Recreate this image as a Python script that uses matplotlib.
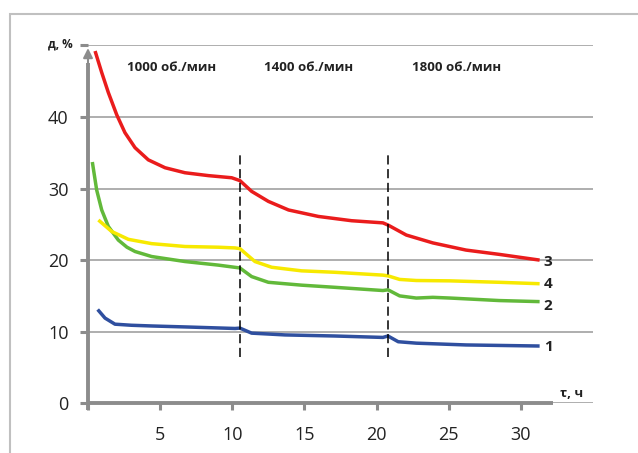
import matplotlib
matplotlib.use("Agg")
import matplotlib.pyplot as plt
from matplotlib.patches import Rectangle

plt.rcParams['font.family'] = ['Open Sans', 'DejaVu Sans']

# Curve 1 (blue)
x1 = [0.67, 1.18, 1.87, 3.0, 4.41, 7.0, 10.19, 10.53, 11.34, 13.65, 17.1, 20.44, 20.79, 21.5, 22.75, 26.2, 31.3]
y1 = [13.1, 11.9, 11.05, 10.9, 10.8, 10.65, 10.45, 10.5, 9.8, 9.55, 9.4, 9.2, 9.4, 8.6, 8.4, 8.15, 8.0]
# Curve 2 (green)
x2 = [0.3, 0.6, 0.95, 1.41, 2.1, 2.7, 3.26, 4.41, 6.72, 9.03, 10.53, 11.34, 12.5, 14.8, 17.1, 20.44, 20.79, 21.6, 22.75, 23.9, 25.1, 28.5, 31.3]
y2 = [33.7, 29.8, 27.0, 24.7, 22.8, 21.8, 21.2, 20.5, 19.8, 19.3, 18.9, 17.7, 16.9, 16.5, 16.2, 15.75, 15.85, 15.0, 14.7, 14.8, 14.7, 14.35, 14.2]
# Curve 3 (red)
x3 = [0.49, 0.95, 1.41, 1.99, 2.56, 3.26, 4.18, 5.34, 6.72, 8.34, 9.96, 10.53, 11.34, 12.5, 13.9, 15.96, 18.27, 20.44, 20.79, 22.06, 23.9, 26.2, 28.5, 31.3]
y3 = [49.2, 46.2, 43.4, 40.3, 37.8, 35.7, 34.0, 32.9, 32.2, 31.8, 31.5, 31.1, 29.6, 28.2, 27.0, 26.1, 25.5, 25.2, 24.9, 23.5, 22.4, 21.4, 20.8, 20.0]
# Curve 4 (yellow)
x4 = [0.72, 1.64, 2.8, 4.41, 6.72, 9.03, 10.19, 10.53, 11.57, 12.73, 14.8, 17.1, 20.44, 20.79, 21.6, 22.75, 25.1, 28.5, 31.3]
y4 = [25.6, 24.0, 22.9, 22.3, 21.9, 21.8, 21.7, 21.6, 19.8, 19.0, 18.5, 18.3, 17.9, 17.8, 17.3, 17.15, 17.1, 16.9, 16.7]

curve_labels = ['1', '2', '3', '4']
label_y = [7.9, 13.6, 19.8, 16.7]
speed_labels = ['1000 об./мин', '1400 об./мин', '1800 об./мин']
speed_x = [5.8, 15.3, 25.55]
switch_x = [10.53, 20.76]
xticks = [0, 5, 10, 15, 20, 25, 30]
xticklabels = ['', '5', '10', '15', '20', '25', '30']
yticks = [0, 10, 20, 30, 40, 50]
yticklabels = ['0', '10', '20', '30', '40', '']

fig = plt.figure(figsize=(6.38, 4.53), dpi=100)
ax = fig.add_axes([88/638, 49.7/453, 505/638, 358/453])
ax.set_xlim(0, 35)
ax.set_ylim(0, 50)
for s in ax.spines.values():
    s.set_visible(False)

gray = '#8c8c8c'
ax.yaxis.grid(True, color='#a8a8a8', lw=1.3, zorder=0)
ax.set_axisbelow(True)

ax.set_xticks(xticks)
ax.set_xticklabels(xticklabels)
ax.set_yticks(yticks)
ax.set_yticklabels(yticklabels)
ax.tick_params(axis='both', colors=gray, labelcolor='#222222', labelsize=13, width=2.2)
ax.tick_params(axis='y', length=6, pad=8)
ax.tick_params(axis='x', length=5, pad=11)

# axes lines
ax.plot([0, 32.2], [0, 0], color=gray, lw=2.8, clip_on=False, zorder=3, solid_capstyle='butt')
ax.plot([0, 0], [-1.0, 47.5], color=gray, lw=2.8, clip_on=False, zorder=3, solid_capstyle='butt')
ax.annotate('', xy=(0, 50), xytext=(0, 47.0),
            arrowprops=dict(arrowstyle='-|>', color=gray, lw=1.5, mutation_scale=14),
            annotation_clip=False, zorder=3)

colors = ['#2f4f9f', '#62b93a', '#ea1c1c', '#f7e900']
for xs, ys, c in [(x1, y1, colors[0]), (x2, y2, colors[1]), (x3, y3, colors[2]), (x4, y4, colors[3])]:
    ax.plot(xs, ys, color=c, lw=2.5, solid_capstyle='butt', solid_joinstyle='round', zorder=4)

for xv in switch_x:
    ax.plot([xv, xv], [6.4, 34.7], color='black', lw=1.1, ls=(0, (6, 3)), zorder=5)

for t, xv in zip(speed_labels, speed_x):
    ax.text(xv, 46.9, t, ha='center', va='center', fontsize=9.5, fontweight='bold', color='#222222')

for t, yv in zip(curve_labels, label_y):
    ax.text(31.9, yv, t, ha='center', va='center', fontsize=11, fontweight='bold', color='#222222')

ax.text(-1.05, 50.2, 'д, %', ha='right', va='center', fontsize=8.5, fontweight='bold', color='#222222', clip_on=False)
ax.text(32.7, 1.4, 'τ, ч', ha='left', va='center', fontsize=9.5, fontweight='bold', color='#222222', clip_on=False)

fig.patches.append(Rectangle((10/638, -0.1), 1.0, 1 - 14/453 + 0.1, transform=fig.transFigure,
                             fill=False, edgecolor='#c0c0c0', lw=1.5))

fig.savefig('out.png', dpi=100)
